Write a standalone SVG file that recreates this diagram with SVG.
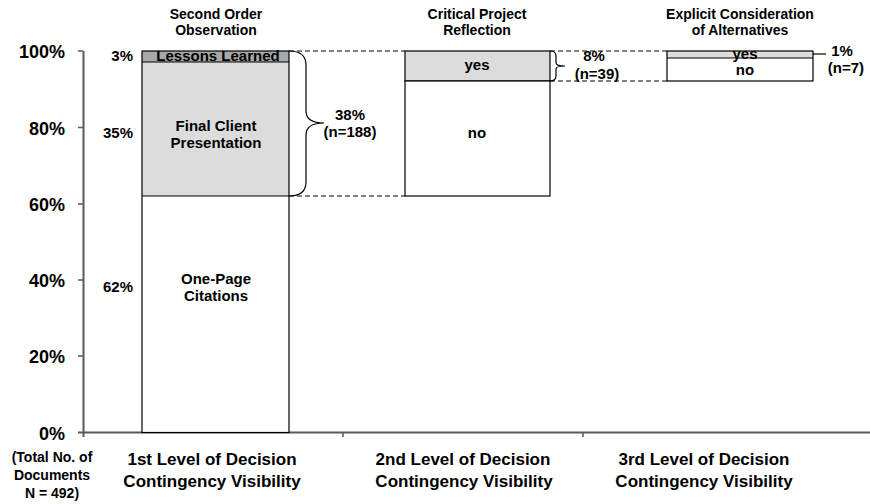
<svg xmlns="http://www.w3.org/2000/svg" width="870" height="504" viewBox="0 0 870 504">
<style>
text{font-family:"Liberation Sans",Arial,sans-serif;font-weight:bold;fill:#000}
.t{font-size:14px;text-anchor:middle}
.ax{font-size:18px;text-anchor:end}
.pl{font-size:15px;text-anchor:end}
.lb{font-size:15px;text-anchor:middle}
.cat{font-size:17px;text-anchor:middle}
.bar{stroke:#000;stroke-width:1.2}
.axis{stroke:#595959;stroke-width:2;fill:none}
.dash{stroke:#595959;stroke-width:1.5;stroke-dasharray:5 3;fill:none}
.brace{stroke:#000;stroke-width:1.2;fill:none}
</style>
<g id="axis">
<line class="axis" x1="83.5" y1="51" x2="83.5" y2="437"/>
<line class="axis" x1="78" y1="432.5" x2="870" y2="432.5"/>
<g stroke="#595959" stroke-width="1.5">
<line x1="78" y1="51" x2="83" y2="51"/>
<line x1="78" y1="127.5" x2="83" y2="127.5"/>
<line x1="78" y1="204" x2="83" y2="204"/>
<line x1="78" y1="280" x2="83" y2="280"/>
<line x1="78" y1="356" x2="83" y2="356"/>
<line x1="343" y1="432" x2="343" y2="437"/>
<line x1="583" y1="432" x2="583" y2="437"/>
</g>
<text class="ax" x="65" y="58">100%</text>
<text class="ax" x="65" y="135">80%</text>
<text class="ax" x="65" y="211">60%</text>
<text class="ax" x="65" y="287">40%</text>
<text class="ax" x="65" y="363">20%</text>
<text class="ax" x="65" y="440">0%</text>
<text class="t" x="52" y="462">(Total No. of</text>
<text class="t" x="52" y="480">Documents</text>
<text class="t" x="52" y="498">N = 492)</text>
</g>
<g id="connectors">
<line class="dash" x1="289" y1="51" x2="405" y2="51"/>
<line class="dash" x1="289" y1="196" x2="405" y2="196"/>
<line class="dash" x1="550" y1="51" x2="667" y2="51"/>
<line class="dash" x1="550" y1="81" x2="667" y2="81"/>
<path class="brace" d="M289,51 C300,51 306,55 306,65 L306,111 C306,119 313,123 324,123 C313,123 306,127 306,135 L306,182 C306,192 300,196 289,196"/>
<path class="brace" d="M550,51 C554,51 556,53 556,56 L556,63 C556,65 559,66 565,66 C559,66 556,67 556,69 L556,76 C556,79 554,81 550,81"/>
<line class="brace" x1="813" y1="54" x2="826" y2="54"/>
</g>
<g id="bar1">
<text class="t" x="216" y="19">Second Order</text>
<text class="t" x="216" y="35">Observation</text>
<rect x="142" y="196" width="147" height="236.5" fill="#fff"/>
<rect x="142" y="62" width="147" height="134" fill="#dcdcdc"/>
<rect x="142" y="51" width="147" height="11" fill="#a8a8a8"/>
<text class="lb" x="218" y="61">Lessons Learned</text>
<rect class="bar" x="142" y="51" width="147" height="381.5" fill="none"/>
<line class="bar" x1="142" y1="62" x2="289" y2="62"/>
<line class="bar" x1="142" y1="196" x2="289" y2="196"/>
<text class="lb" x="216" y="131">Final Client</text>
<text class="lb" x="216" y="148">Presentation</text>
<text class="lb" x="216" y="284">One-Page</text>
<text class="lb" x="216" y="301">Citations</text>
<text class="pl" x="133" y="61">3%</text>
<text class="pl" x="133" y="138">35%</text>
<text class="pl" x="133" y="292">62%</text>
<text class="lb" x="350" y="120">38%</text>
<text class="lb" x="350" y="137">(n=188)</text>
<text class="cat" x="212" y="465">1st Level of Decision</text>
<text class="cat" x="212" y="487">Contingency Visibility</text>
</g>
<g id="bar2">
<text class="t" x="477" y="19">Critical Project</text>
<text class="t" x="477" y="35">Reflection</text>
<rect class="bar" x="405" y="51" width="145" height="30" fill="#dcdcdc"/>
<rect class="bar" x="405" y="81" width="145" height="115" fill="#fff"/>
<text class="lb" x="477" y="70">yes</text>
<text class="lb" x="477" y="138">no</text>
<text class="lb" x="594" y="61">8%</text>
<text class="lb" x="597" y="79">(n=39)</text>
<text class="cat" x="463" y="465">2nd Level of Decision</text>
<text class="cat" x="464" y="487">Contingency Visibility</text>
</g>
<g id="bar3">
<text class="t" x="740" y="19">Explicit Consideration</text>
<text class="t" x="740" y="35">of Alternatives</text>
<rect x="667" y="51" width="146" height="7" fill="#dcdcdc"/>
<rect x="667" y="58" width="146" height="23" fill="#fff"/>
<text class="lb" x="745" y="59">yes</text>
<rect class="bar" x="667" y="51" width="146" height="30" fill="none"/>
<line class="bar" x1="667" y1="58" x2="813" y2="58"/>
<text class="lb" x="745" y="75">no</text>
<text class="lb" x="842" y="56">1%</text>
<text class="lb" x="846" y="73">(n=7)</text>
<text class="cat" x="704" y="465">3rd Level of Decision</text>
<text class="cat" x="704" y="487">Contingency Visibility</text>
</g>
</svg>
